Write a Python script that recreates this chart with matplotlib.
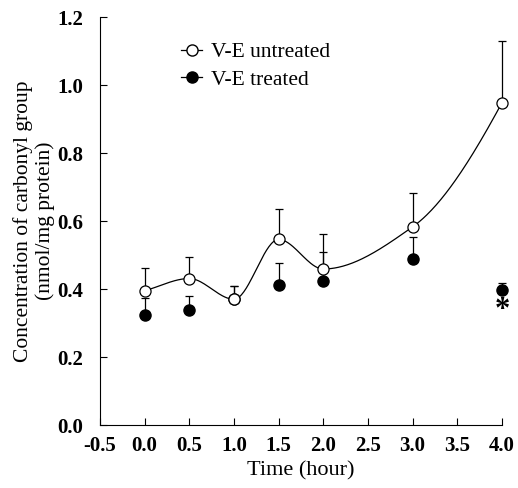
import numpy as np
import matplotlib.pyplot as plt

plt.rcParams['font.family'] = ['Liberation Serif', 'DejaVu Serif']

# time points (hour)
hours = [0.0, 0.5, 1.0, 1.5, 2.0, 3.0, 4.0]

# V-E untreated: mean and upper error
untreated = [0.395, 0.431, 0.370, 0.546, 0.459, 0.583, 0.948]
untreated_err = [0.068, 0.063, 0.039, 0.089, 0.104, 0.099, 0.182]

# V-E treated: mean and upper error
treated = [0.324, 0.338, 0.370, 0.411, 0.423, 0.488, 0.397]
treated_err = [0.049, 0.042, 0.039, 0.065, 0.087, 0.064, 0.020]

xticks = [-0.5, 0.0, 0.5, 1.0, 1.5, 2.0, 2.5, 3.0, 3.5, 4.0]
yticks = [0.0, 0.2, 0.4, 0.6, 0.8, 1.0, 1.2]


def pchip(x, y, xs):
    # shape-preserving cubic for the smooth connecting curve
    x = np.asarray(x, float)
    y = np.asarray(y, float)
    h = np.diff(x)
    delta = np.diff(y) / h
    n = len(x)
    d = np.zeros(n)
    for k in range(1, n - 1):
        if delta[k - 1] * delta[k] > 0:
            w1 = 2 * h[k] + h[k - 1]
            w2 = h[k] + 2 * h[k - 1]
            d[k] = (w1 + w2) / (w1 / delta[k - 1] + w2 / delta[k])
    d[0] = delta[0]
    d[-1] = ((2 * h[-1] + h[-2]) * delta[-1] - h[-1] * delta[-2]) / (h[-1] + h[-2])
    out = np.empty_like(xs)
    for j, xv in enumerate(xs):
        i = min(max(np.searchsorted(x, xv) - 1, 0), n - 2)
        t = (xv - x[i]) / h[i]
        h00 = 2 * t**3 - 3 * t**2 + 1
        h10 = t**3 - 2 * t**2 + t
        h01 = -2 * t**3 + 3 * t**2
        h11 = t**3 - t**2
        out[j] = h00 * y[i] + h10 * h[i] * d[i] + h01 * y[i + 1] + h11 * h[i] * d[i + 1]
    return out


fig = plt.figure(figsize=(5.18, 4.88), dpi=100)
ax = fig.add_axes([0.193, 0.129, 0.776, 0.836])

xs = np.linspace(hours[0], hours[-1], 300)
ax.plot(xs, pchip(hours, untreated, xs), color='black', lw=0.9, zorder=2)

zeros = np.zeros(len(hours))
for mean, err in [(treated, treated_err), (untreated, untreated_err)]:
    eb = ax.errorbar(hours, mean, yerr=[zeros, err], fmt='none', ecolor='black',
                     elinewidth=0.9, capsize=3, capthick=0.9, zorder=1)
    for art in eb.lines[1] + eb.lines[2]:
        art.set_clip_on(False)

ax.plot(hours, treated, 'o', color='black', ms=8, zorder=3, clip_on=False)
ax.plot(hours, untreated, 'o', mfc='white', mec='black', mew=0.9, ms=8,
        zorder=4, clip_on=False)

# significance mark
ax.text(hours[-1], treated[-1] - 0.06, '*', ha='center', va='center',
        fontsize=22, fontweight='bold')

# legend
h1, = ax.plot([], [], '-o', color='black', mfc='white', ms=8, lw=0.9)
h2, = ax.plot([], [], '-o', color='black', ms=8, lw=0.9)
ax.legend([h1, h2], ['V-E untreated', 'V-E treated'], loc='upper left',
          bbox_to_anchor=(0.18, 0.96), frameon=False, fontsize=15.5,
          handlelength=1.0, handletextpad=0.4, borderaxespad=0, labelspacing=0.35)

ax.set_xlim(-0.5, 4.0)
ax.set_ylim(0.0, 1.2)
ax.set_xticks(xticks)
ax.set_yticks(yticks)
ax.set_xticklabels([f'{v:.1f}' for v in xticks], fontsize=15, fontweight='bold')
ax.set_yticklabels([f'{v:.1f}' for v in yticks], fontsize=15, fontweight='bold')
ax.tick_params(direction='in', length=5, width=0.8)
ax.tick_params(axis='x', pad=8)
ax.tick_params(axis='y', pad=12)
for s in ['top', 'right']:
    ax.spines[s].set_visible(False)

ax.set_xlabel('Time (hour)', fontsize=16, labelpad=4)
ax.set_ylabel('Concentration of carbonyl group\n(nmol/mg protein)', fontsize=15.5,
              labelpad=2, linespacing=1.15)

fig.savefig('out.png', dpi=100)
